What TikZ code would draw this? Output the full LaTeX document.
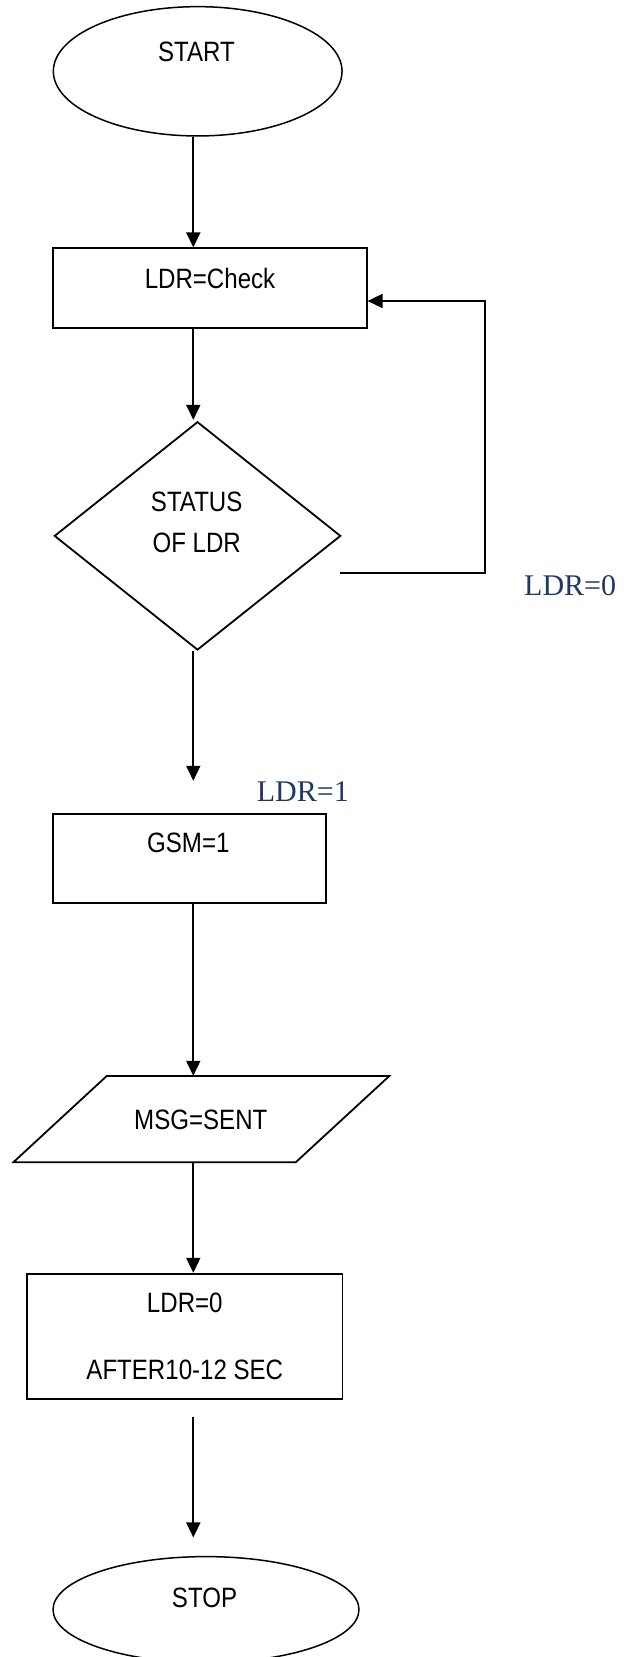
\documentclass[tikz,border=0pt]{standalone}
\usepackage{fontspec}
\setmainfont{Liberation Sans}[FakeStretch=0.86]
\newfontfamily\lblfont{Liberation Serif}
\usetikzlibrary{shapes.geometric,arrows.meta}
\definecolor{lblblue}{HTML}{1F3864}
\tikzset{
  shapeline/.style={draw=black, line width=1.8pt, inner sep=0pt},
  terminal/.style={shapeline, ellipse, line width=1.5pt},
  procbox/.style={shapeline, rectangle},
  decision/.style={shapeline, diamond},
  boxtext/.style={inner sep=0pt, font=\fontsize{28}{34}\selectfont},
  cond/.style={inner sep=0pt, text=lblblue, font=\lblfont\fontsize{30}{36}\selectfont},
  flow/.style={line width=1.8pt, -{Triangle[length=15pt,width=14pt]}},
}
\begin{document}
\begin{tikzpicture}[x=1pt,y=-1pt]
\useasboundingbox (0,0) rectangle (625,1657);

% main vertical line of the chart
\coordinate (spine) at (193.3,0);

% shapes
\node[terminal, minimum width=288.7pt, minimum height=129.3pt] (start) at (197.7,71.3) {};
\node[procbox, minimum width=313.4pt, minimum height=80pt] (check) at (210,288.3) {};
\node[decision, minimum width=286.4pt, minimum height=228.3pt] (status) at (197.5,535.9) {};
\node[procbox, minimum width=272.4pt, minimum height=88.4pt] (gsm) at (189.5,858.5) {};
\node[inner sep=0pt, minimum width=282.6pt, minimum height=86.3pt] (msg) at (201.25,1119.15) {};
\draw[line width=1.8pt] (106.7,1076) -- (389.3,1076) -- (295.7,1162.3) -- (13.3,1162.3) -- cycle;
\node[procbox, minimum width=315.2pt, minimum height=125.3pt] (delay) at (184.8,1336.35) {};
\node[terminal, minimum width=306pt, minimum height=106pt] (stop) at (206,1609.6) {};

% texts
\node[boxtext] (tstart) at (196.5,51.7) {START};
\node[boxtext] (tcheck) at (210,278.8) {LDR=Check};
\node[boxtext] (tstatus) at (196.7,501.7) {STATUS};
\node[boxtext] (tof) at (196.7,543.3) {OF LDR};
\node[boxtext] (tgsm) at (188.3,843.3) {GSM=1};
\node[boxtext] (tmsg) at (200.8,1120) {MSG=SENT};
\node[boxtext] (tldr) at (184.8,1303.3) {LDR=0};
\node[boxtext] (tafter) at (184.8,1370) {AFTER10-12 SEC};
\node[boxtext] (tstop) at (204.5,1597.8) {STOP};

% condition labels
\node[cond, anchor=base west] (ldr0) at (524,595.5) {LDR=0};
\node[cond, anchor=base west] (ldr1) at (256.7,801.7) {LDR=1};

% connectors
\draw[flow] (start.south -| spine) -- (check.north -| spine);
\draw[flow, shorten >=1pt] (check.south -| spine) -- (status.north -| spine);
\draw[flow, shorten >=32.6pt] (status.south -| spine) -- (gsm.north -| spine);
\draw[flow] (gsm.south -| spine) -- (msg.north -| spine);
\draw[flow] (msg.south -| spine) -- (delay.north -| spine);
\draw[flow, shorten <=17pt, shorten >=18.4pt] (delay.south -| spine) -- (stop.north -| spine);

% return path when LDR=0
\coordinate (loopstart) at (340.4,572.7);
\coordinate (loopx) at (485.3,0);
\coordinate (ret) at ([yshift=-12.7pt]check.east);
\draw[flow] (loopstart) -| (loopx |- ret) -- (ret);
\end{tikzpicture}
\end{document}
